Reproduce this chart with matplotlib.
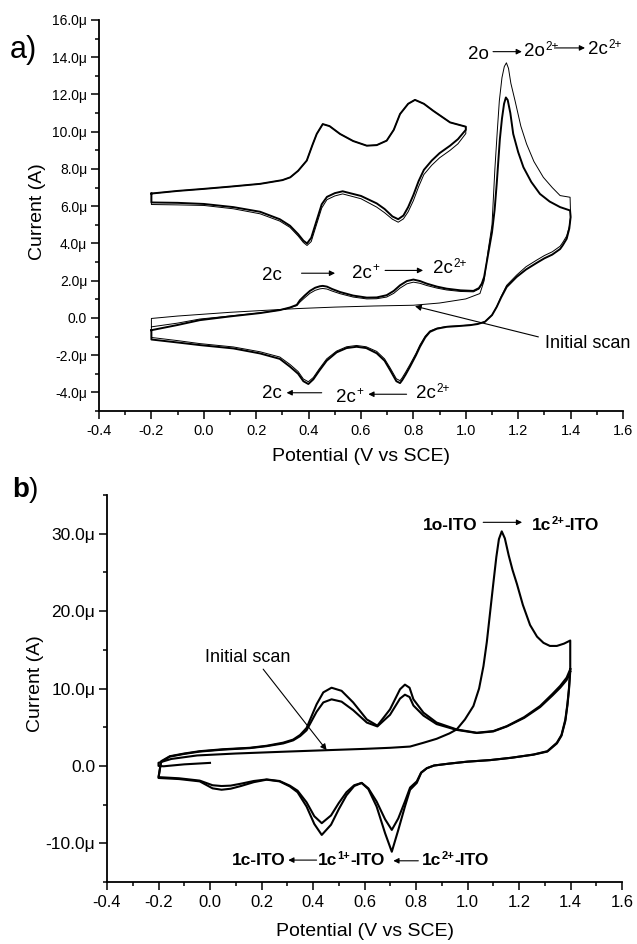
import matplotlib
matplotlib.use('Agg')
import matplotlib.pyplot as plt
from matplotlib.ticker import MultipleLocator, FuncFormatter

plt.rcParams['font.family'] = ['Liberation Sans', 'DejaVu Sans']
plt.rcParams['mathtext.fontset'] = 'custom'
plt.rcParams['mathtext.rm'] = 'Liberation Sans'
plt.rcParams['mathtext.bf'] = 'Liberation Sans:bold'
plt.rcParams['axes.unicode_minus'] = False

#+------------------------------------------------------+#
# panel a : upper CV (offset curve, -0.2 .. 1.0 V)
a_up_fwd_v = [-0.2, -0.1, 0.0, 0.1, 0.215, 0.3, 0.33, 0.36, 0.393, 0.415, 0.431, 0.454, 0.48, 0.52,
              0.57, 0.622, 0.66, 0.698, 0.725, 0.749, 0.78, 0.806, 0.84, 0.876, 0.94, 1.0]
a_up_fwd_i = [6.68, 6.82, 6.93, 7.05, 7.2, 7.4, 7.55, 7.9, 8.45, 9.3, 9.88, 10.41, 10.3, 9.88,
              9.5, 9.25, 9.28, 9.52, 10.1, 10.95, 11.5, 11.71, 11.5, 11.12, 10.5, 10.27]
a_up_rev_v = [1.0, 1.0, 0.97, 0.94, 0.9, 0.87, 0.84, 0.82, 0.8, 0.78, 0.762, 0.742, 0.72, 0.69, 0.66,
              0.6, 0.53, 0.5, 0.47, 0.45, 0.43, 0.41, 0.394, 0.38, 0.36, 0.329, 0.29, 0.215, 0.113,
              0.0, -0.1, -0.2, -0.2]
a_up_rev_i_thick = [10.27, 10.1, 9.6, 9.25, 8.85, 8.45, 7.95, 7.35, 6.6, 5.95, 5.5, 5.3, 5.45, 5.85, 6.15,
                    6.55, 6.8, 6.7, 6.5, 6.1, 5.2, 4.3, 4.0, 4.15, 4.5, 4.95, 5.3, 5.7, 5.95,
                    6.12, 6.18, 6.2, 6.68]
a_up_rev_i_thin = [10.27, 9.9, 9.35, 9.0, 8.6, 8.2, 7.7, 7.05, 6.3, 5.7, 5.32, 5.14, 5.3, 5.65, 5.95,
                   6.4, 6.66, 6.55, 6.35, 5.9, 5.0, 4.1, 3.89, 4.05, 4.4, 4.86, 5.2, 5.59, 5.86,
                   6.04, 6.07, 6.09, 6.68]

# panel a : lower CV (-0.2 .. 1.4 V)
a_init_v = [-0.2, -0.2, -0.1, 0.0, 0.1, 0.2, 0.355, 0.5, 0.65, 0.8, 0.9, 1.0, 1.054, 1.07, 1.085, 1.1,
            1.111, 1.12, 1.128, 1.138, 1.147, 1.155, 1.163, 1.172, 1.188, 1.21, 1.232, 1.26, 1.296,
            1.33, 1.36, 1.398, 1.4]
a_init_i = [-0.48, -0.03, 0.1, 0.2, 0.3, 0.38, 0.5, 0.58, 0.64, 0.68, 0.8, 1.02, 1.31, 2.0, 3.6, 5.0,
            8.0, 10.0, 11.66, 12.9, 13.5, 13.7, 13.4, 12.6, 11.66, 10.3, 9.34, 8.4, 7.55,
            7.0, 6.57, 6.48, 5.5]

a_fwd_v = [-0.2, -0.1, -0.015, 0.1, 0.215, 0.29, 0.329, 0.355, 0.367, 0.385, 0.405, 0.425, 0.443, 0.454,
           0.47, 0.49, 0.52, 0.57, 0.622, 0.66, 0.698, 0.725, 0.749, 0.775, 0.8, 0.825, 0.851, 0.89,
           0.927, 0.98, 1.029, 1.05, 1.061, 1.07, 1.08, 1.09, 1.1, 1.11, 1.118, 1.125, 1.13, 1.138,
           1.146, 1.153, 1.16, 1.17, 1.181, 1.2, 1.22, 1.25, 1.283, 1.32, 1.36, 1.398, 1.4]
a_fwd_i = [-0.66, -0.38, -0.12, 0.08, 0.26, 0.42, 0.56, 0.7, 0.95, 1.2, 1.45, 1.62, 1.7, 1.72,
           1.68, 1.55, 1.39, 1.2, 1.09, 1.1, 1.22, 1.45, 1.75, 1.98, 2.06, 1.98, 1.84, 1.68,
           1.57, 1.48, 1.45, 1.6, 1.84, 2.2, 3.0, 3.8, 4.6, 5.8, 7.2, 8.6, 9.6, 10.7,
           11.5, 11.84, 11.7, 11.0, 9.88, 8.9, 8.09, 7.3, 6.66, 6.25, 5.95, 5.77, 5.41]

a_fwd2_v = a_fwd_v[:34]
a_fwd2_i = [-0.48, -0.28, -0.06, 0.1, 0.27, 0.42, 0.55, 0.66, 0.85, 1.08, 1.32, 1.48, 1.56, 1.58,
            1.55, 1.44, 1.3, 1.12, 1.02, 1.03, 1.12, 1.32, 1.6, 1.83, 1.92, 1.86, 1.74, 1.6,
            1.5, 1.42, 1.4, 1.55, 1.8, 2.2]

a_ret_v = [1.4, 1.395, 1.385, 1.37, 1.36, 1.33, 1.3, 1.27, 1.23, 1.194, 1.156, 1.135, 1.118, 1.1,
           1.073, 1.045, 1.016, 0.97, 0.927, 0.89, 0.863, 0.845, 0.825, 0.81, 0.787, 0.77, 0.757,
           0.749, 0.735, 0.711, 0.69, 0.66, 0.62, 0.583, 0.545, 0.507, 0.469, 0.44, 0.418, 0.399,
           0.38, 0.36, 0.329, 0.29, 0.215, 0.113, -0.015, -0.1, -0.2, -0.2]
a_ret_i_thick = [5.41, 4.8, 4.25, 3.9, 3.7, 3.4, 3.2, 2.95, 2.6, 2.2, 1.66, 1.1, 0.59, 0.15,
                 -0.21, -0.33, -0.39, -0.44, -0.48, -0.58, -0.75, -1.05, -1.55, -2.0, -2.62, -3.05, -3.35,
                 -3.5, -3.4, -2.8, -2.3, -1.9, -1.62, -1.55, -1.62, -1.85, -2.3, -2.85, -3.3, -3.55,
                 -3.4, -3.0, -2.62, -2.2, -1.91, -1.64, -1.46, -1.32, -1.16, -0.66]
a_ret_i_thin = [5.41, 4.9, 4.4, 4.05, 3.85, 3.55, 3.35, 3.1, 2.75, 2.3, 1.75, 1.15, 0.6, 0.15,
                -0.2, -0.32, -0.38, -0.43, -0.46, -0.55, -0.7, -0.98, -1.45, -1.9, -2.5, -2.92, -3.22,
                -3.37, -3.27, -2.68, -2.2, -1.8, -1.55, -1.48, -1.55, -1.78, -2.2, -2.75, -3.2, -3.43,
                -3.28, -2.88, -2.5, -2.1, -1.82, -1.56, -1.38, -1.22, -1.05, -0.48]

#+------------------------------------------------------+#
# panel b
b_init_v = [0.0, -0.1, -0.18, -0.2, -0.2, -0.15, -0.05, 0.1, 0.3, 0.453, 0.6, 0.7, 0.777, 0.829, 0.88,
            0.93, 0.958, 0.99, 1.023, 1.045, 1.062, 1.075, 1.088, 1.1, 1.112, 1.122, 1.133, 1.145,
            1.16, 1.175, 1.192, 1.215, 1.243, 1.27, 1.295, 1.32, 1.347, 1.375, 1.399, 1.399]
b_init_i = [0.39, 0.2, -0.05, 0.0, 0.4, 0.9, 1.35, 1.6, 1.85, 2.03, 2.2, 2.34, 2.5, 2.99, 3.5,
            4.2, 4.71, 6.0, 7.74, 10.0, 12.9, 16.0, 19.9, 23.5, 27.0, 29.3, 30.3, 29.4,
            27.2, 25.3, 23.5, 20.8, 18.2, 16.7, 15.9, 15.5, 15.5, 15.8, 16.2, 12.5]

b_ret_v = [1.399, 1.394, 1.388, 1.38, 1.365, 1.347, 1.31, 1.256, 1.17, 1.088, 1.0, 0.93, 0.87, 0.842,
           0.82, 0.803, 0.777, 0.757, 0.731, 0.706, 0.68, 0.647, 0.615, 0.589, 0.56, 0.53, 0.5,
           0.47, 0.434, 0.405, 0.375, 0.34, 0.31, 0.27, 0.22, 0.17, 0.12, 0.08, 0.045, 0.01,
           -0.04, -0.12, -0.2]
b_ret_i_outer = [12.5, 10.0, 8.0, 6.0, 4.0, 2.99, 1.9, 1.47, 1.05, 0.75, 0.55, 0.3, 0.05, -0.3,
                 -0.9, -2.2, -3.08, -5.25, -8.3, -11.09, -8.7, -5.25, -3.0, -2.2, -2.6, -3.8, -5.6,
                 -7.6, -8.92, -7.5, -5.25, -3.4, -2.65, -2.0, -1.78, -2.1, -2.6, -2.95, -3.08, -2.9,
                 -2.0, -1.7, -1.56]
b_ret_i_inner = [12.2, 9.8, 7.8, 5.8, 3.9, 2.9, 1.85, 1.45, 1.05, 0.75, 0.55, 0.3, 0.05, -0.3,
                 -0.85, -2.0, -2.8, -4.6, -6.8, -8.27, -6.9, -4.6, -2.9, -2.2, -2.5, -3.4, -4.8,
                 -6.4, -7.4, -6.5, -4.7, -3.2, -2.55, -1.95, -1.75, -1.95, -2.3, -2.55, -2.6, -2.5,
                 -1.9, -1.6, -1.45]

b_fwd_v = [-0.2, -0.19, -0.156, -0.1, -0.04, 0.05, 0.155, 0.22, 0.284, 0.323, 0.35, 0.375, 0.414, 0.44,
           0.472, 0.511, 0.556, 0.609, 0.65, 0.699, 0.738, 0.757, 0.775, 0.79, 0.829, 0.88, 0.958,
           1.036, 1.1, 1.153, 1.22, 1.282, 1.33, 1.36, 1.385, 1.399]
b_fwd_i_outer = [-1.56, 0.6, 1.25, 1.6, 1.9, 2.15, 2.34, 2.6, 3.0, 3.4, 4.0, 4.9, 7.96, 9.5,
                 10.1, 9.7, 8.2, 6.0, 5.2, 7.3, 9.9, 10.5, 10.1, 8.6, 6.88, 5.6, 4.71,
                 4.28, 4.5, 5.14, 6.3, 7.74, 9.3, 10.34, 11.4, 12.5]
b_fwd_i_inner = [-1.45, 0.5, 1.2, 1.55, 1.85, 2.1, 2.3, 2.55, 2.9, 3.3, 3.85, 4.6, 7.0, 8.2,
                 8.6, 8.3, 7.2, 5.6, 5.1, 6.6, 8.7, 9.2, 8.9, 7.8, 6.5, 5.4, 4.65,
                 4.25, 4.45, 5.1, 6.2, 7.6, 9.1, 10.1, 11.1, 12.2]

x_lim = (-0.4, 1.6)

#+------------------------------------------------------+#

def style_axes(ax, ymin, ymax, ystep, yminor, ysize, xsize):
    ax.set_xlim(*x_lim)
    ax.set_ylim(ymin, ymax)
    for s in ['top', 'right']:
        ax.spines[s].set_visible(False)
    for s in ['left', 'bottom']:
        ax.spines[s].set_linewidth(1.3)
    ax.xaxis.set_major_locator(MultipleLocator(0.2))
    ax.xaxis.set_minor_locator(MultipleLocator(0.1))
    ax.yaxis.set_major_locator(MultipleLocator(ystep))
    ax.yaxis.set_minor_locator(MultipleLocator(yminor))
    ax.xaxis.set_major_formatter(FuncFormatter(lambda v, p: '0.0' if abs(v) < 1e-9 else '%.1f' % v))
    ax.yaxis.set_major_formatter(FuncFormatter(lambda v, p: '0.0' if abs(v) < 1e-9 else '%.1fμ' % v))
    ax.tick_params(which='major', direction='out', length=6, width=1.1)
    ax.tick_params(which='minor', direction='out', length=3, width=1.1)
    ax.tick_params(axis='y', labelsize=ysize, pad=2.5)
    ax.tick_params(axis='x', labelsize=xsize, pad=3.5)


def arrow(ax, tail, head, ms=8):
    ax.annotate('', xy=head, xytext=tail,
                arrowprops=dict(arrowstyle='-|>', lw=0.8, color='k', mutation_scale=ms,
                                shrinkA=0, shrinkB=0))


def label(ax, x, y, base, sup='', tail='', fs=13.5, sfs=8.5, weight='normal'):
    """texte avec exposant (et suite eventuelle)"""
    t = ax.text(x, y, base, fontsize=fs, weight=weight)
    if sup:
        s = ax.annotate(sup, xy=(1.02, 0.6), xycoords=t, fontsize=sfs, weight=weight, va='baseline')
        if tail:
            ax.annotate(tail, xy=(1.0, 0.0), xycoords=(s, t), fontsize=fs, weight=weight, va='bottom')

#+------------------------------------------------------+#

fig = plt.figure(figsize=(6.37, 9.44), dpi=100)
ax_a = fig.add_axes([99/637, 1-411/944, 524/637, 391/944])
ax_b = fig.add_axes([107/637, 1-882/944, 515/637, 387/944])

# ---- panel a
ax_a.plot(a_up_fwd_v + a_up_rev_v, a_up_fwd_i + a_up_rev_i_thin, color='k', lw=0.7)
ax_a.plot(a_up_fwd_v + a_up_rev_v, a_up_fwd_i + a_up_rev_i_thick, color='k', lw=1.4)
ax_a.plot(a_init_v + a_ret_v + a_fwd2_v, a_init_i + a_ret_i_thin + a_fwd2_i, color='k', lw=0.7)
ax_a.plot(a_fwd_v + a_ret_v, a_fwd_i + a_ret_i_thick, color='k', lw=1.4)

style_axes(ax_a, -5, 16, 2, 1, 10, 10.5)
ax_a.set_xlabel('Potential (V vs SCE)', fontsize=14)
ax_a.xaxis.set_label_coords(0.5, -0.095)
ax_a.set_ylabel('Current (A)', fontsize=14)
ax_a.yaxis.set_label_coords(-0.101, 0.51)

label(ax_a, 1.008, 13.9, '2o')
arrow(ax_a, (1.104, 14.3), (1.214, 14.3))
label(ax_a, 1.222, 14.07, '2o', '2+')
arrow(ax_a, (1.344, 14.5), (1.455, 14.5))
label(ax_a, 1.466, 14.16, '2c', '2+')

label(ax_a, 0.221, 2.06, '2c')
arrow(ax_a, (0.373, 2.4), (0.501, 2.4))
label(ax_a, 0.565, 2.16, '2c', '+')
arrow(ax_a, (0.692, 2.55), (0.837, 2.55))
label(ax_a, 0.874, 2.41, '2c', '2+')

label(ax_a, 0.221, -4.32, '2c')
arrow(ax_a, (0.45, -4.02), (0.316, -4.02))
label(ax_a, 0.505, -4.5, '2c', '+')
arrow(ax_a, (0.774, -4.1), (0.628, -4.1))
label(ax_a, 0.81, -4.32, '2c', '2+')

ax_a.text(1.302, -1.64, 'Initial scan', fontsize=13)
arrow(ax_a, (1.277, -1.02), (0.806, 0.63), ms=9)

# ---- panel b
ax_b.plot(b_init_v, b_init_i, color='k', lw=1.5)
ax_b.plot(b_ret_v + b_fwd_v, b_ret_i_outer + b_fwd_i_outer, color='k', lw=1.5)
ax_b.plot(b_ret_v + b_fwd_v, b_ret_i_inner + b_fwd_i_inner, color='k', lw=1.5)

style_axes(ax_b, -15, 35, 10, 5, 12.5, 12)
ax_b.set_xlabel('Potential (V vs SCE)', fontsize=14)
ax_b.xaxis.set_label_coords(0.5, -0.105)
ax_b.set_ylabel('Current (A)', fontsize=14)
ax_b.yaxis.set_label_coords(-0.122, 0.512)

fb = 12.5
label(ax_b, 0.827, 30.47, '1o-ITO', fs=fb, weight='bold')
arrow(ax_b, (1.061, 31.47), (1.212, 31.47))
label(ax_b, 1.251, 30.47, '1c', '2+', '-ITO', fs=fb, sfs=8, weight='bold')

label(ax_b, 0.084, -12.82, '1c-ITO', fs=fb, weight='bold')
arrow(ax_b, (0.414, -12.17), (0.304, -12.17))
label(ax_b, 0.419, -12.82, '1c', '1+', '-ITO', fs=fb, sfs=8, weight='bold')
arrow(ax_b, (0.809, -12.26), (0.712, -12.26))
label(ax_b, 0.822, -12.82, '1c', '2+', '-ITO', fs=fb, sfs=8, weight='bold')

ax_b.text(-0.02, 13.38, 'Initial scan', fontsize=13)
arrow(ax_b, (0.2065, 12.5), (0.453, 2.03), ms=9)

# lettres des panneaux
fig.text(10/637, 1-58.3/944, 'a)', fontsize=22)
fig.text(11.7/637, 1-496.7/944, r'$\mathbf{b}$)', fontsize=20)

fig.savefig('out.png', dpi=100)
